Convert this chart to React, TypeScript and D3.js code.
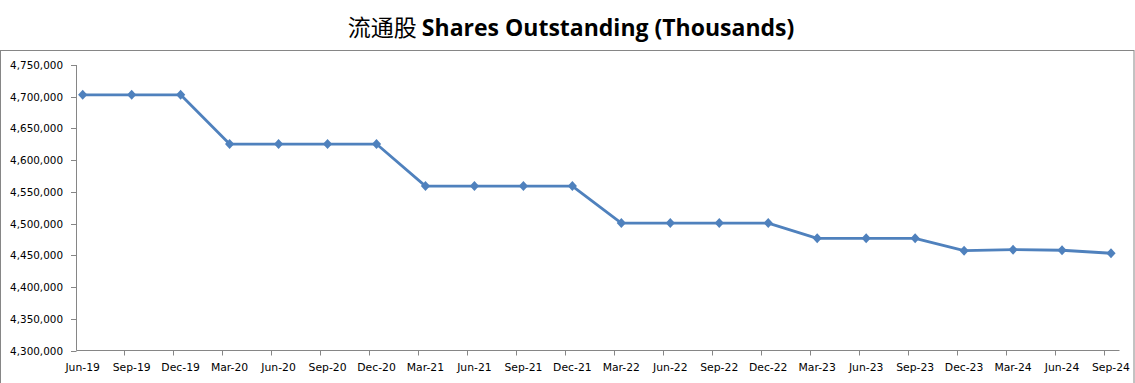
import React from "react";
import * as d3 from "d3";

const categories = [
  "Jun-19", "Sep-19", "Dec-19", "Mar-20", "Jun-20", "Sep-20", "Dec-20",
  "Mar-21", "Jun-21", "Sep-21", "Dec-21", "Mar-22", "Jun-22", "Sep-22",
  "Dec-22", "Mar-23", "Jun-23", "Sep-23", "Dec-23", "Mar-24", "Jun-24", "Sep-24",
];
const sharesOutstanding = [
  4703000, 4703000, 4703000, 4625500, 4625500, 4625500, 4625500,
  4559300, 4559300, 4559300, 4559300, 4501000, 4501000, 4501000,
  4501000, 4477000, 4477000, 4477000, 4457600, 4459200, 4458200, 4453500,
];
const yTicks = [4300000, 4350000, 4400000, 4450000, 4500000, 4550000, 4600000, 4650000, 4700000, 4750000];

const W = 1135;
const H = 383;

export default function App() {
  const x = d3.scalePoint<string>().domain(categories).range([82.7, 1111]);
  const y = d3.scaleLinear().domain([4300000, 4750000]).range([350.7, 65]);
  const fmt = d3.format(",");
  const line = d3
    .line<number>()
    .x((_, i) => x(categories[i]) as number)
    .y((d) => y(d));
  const color = "#4F81BD";
  const tickOffset = -7.5;
  const diamond = "M0,-5L4.6,0L0,5L-4.6,0Z";

  return (
    <svg
      width={W}
      height={H}
      style={{ position: "fixed", left: 0, top: 0, background: "#fff" }}
    >
      <rect x={0} y={0} width={W} height={H} fill="#fff" />
      <rect x={0.5} y={50.5} width={1133.5} height={400} fill="none" stroke="#868686" strokeWidth={1} />
      <text
        x={571}
        y={36}
        textAnchor="middle"
        fontSize={23}
        fill="#000"
      >
        <tspan fontFamily="'Noto Sans CJK SC'" fontWeight={400}>流通股 </tspan>
        <tspan fontFamily="'Open Sans'" fontWeight={700}>Shares Outstanding (Thousands)</tspan>
      </text>

      {/* Y axis */}
      <line x1={76.5} x2={76.5} y1={y(4750000)} y2={y(4300000)} stroke="#868686" />
      {yTicks.map((t) => (
        <g key={t} transform={`translate(0,${Math.round(y(t)) + 0.5})`}>
          <line x1={71} x2={76.5} stroke="#868686" />
          <text
            x={63}
            y={3.8}
            textAnchor="end"
            fontFamily="'DejaVu Sans'"
            fontSize={10.4}
            fill="#000"
          >
            {fmt(t)}
          </text>
        </g>
      ))}

      {/* X axis */}
      <line x1={76.5} x2={1119.5} y1={350.5} y2={350.5} stroke="#868686" />
      {categories.map((c, i) => {
        const cx = x(c) as number;
        return (
          <g key={c}>
            {i > 0 && (
              <line
                x1={Math.round(cx + tickOffset) + 0.5}
                x2={Math.round(cx + tickOffset) + 0.5}
                y1={350.5}
                y2={355.5}
                stroke="#868686"
              />
            )}
            <text
              x={cx}
              y={371}
              textAnchor="middle"
              fontFamily="'DejaVu Sans'"
              fontSize={10.8}
              fill="#000"
            >
              {c}
            </text>
          </g>
        );
      })}

      <path d={line(sharesOutstanding) as string} fill="none" stroke={color} strokeWidth={2.8} strokeLinejoin="round" />
      {sharesOutstanding.map((v, i) => (
        <path
          key={i}
          d={diamond}
          transform={`translate(${x(categories[i])},${y(v)})`}
          fill={color}
        />
      ))}
    </svg>
  );
}
